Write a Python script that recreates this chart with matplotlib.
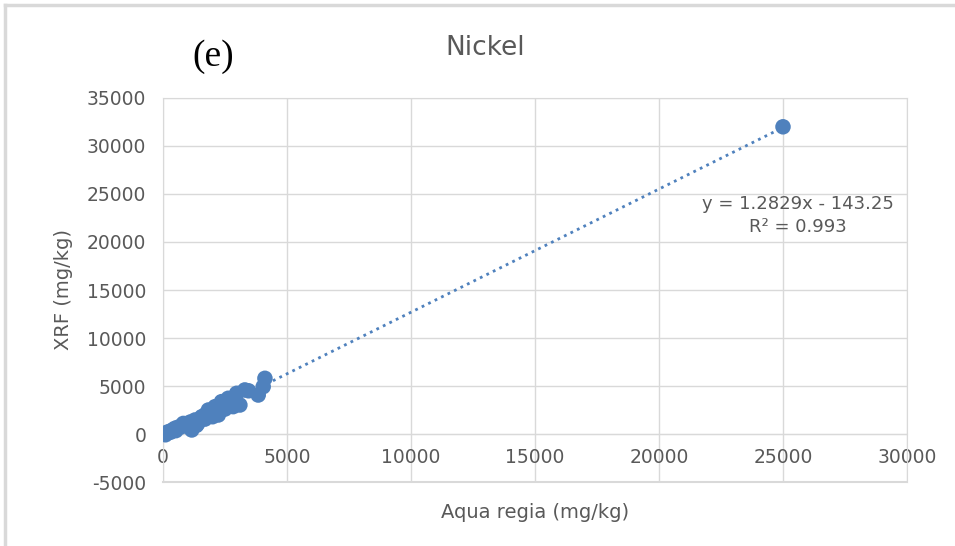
"""Nickel: XRF vs aqua regia digestion, panel (e)."""

import matplotlib
matplotlib.use("Agg")
import matplotlib.pyplot as plt
import numpy as np

plt.rcParams["axes.unicode_minus"] = False

# aqua regia (mg/kg) vs XRF (mg/kg)
aqua_regia = [0, 40, 90, 150, 215, 300, 380, 480, 600, 750, 880, 1020, 1160,
              1290, 1400, 1560, 1690, 1830, 1950, 2100, 2230, 2360, 2500,
              2630, 2830, 2970, 3100, 3300, 3840, 4040, 4110,
              100, 520, 820, 1100, 1350, 1700, 2000, 2300, 2700, 3450,
              25000]
xrf = [0, 60, 20, 120, 240, 180, 420, 590, 700, 760, 900, 940, 420,
       1460, 1100, 1800, 1550, 2500, 2200, 2850, 1980, 3370, 2600,
       3720, 2850, 4240, 3020, 4590, 4060, 4930, 5800,
       -80, 350, 1100, 1250, 900, 2000, 1800, 2400, 3300, 4500,
       32000]

slope, intercept = 1.2829, -143.25
r2 = 0.993

blue = "#4F81BD"
grey = "#D9D9D9"
txt = "#595959"

fig = plt.figure(figsize=(9.55, 5.46), dpi=100)
ax = fig.add_axes([163 / 955, 64 / 546, 744 / 955, 384 / 546])

x = np.array(aqua_regia)
fit_x = np.array([x.min(), x.max()])
ax.plot(fit_x, slope * fit_x + intercept, color=blue, lw=2,
        linestyle=(0, (1, 1.6)), zorder=2)
ax.scatter(aqua_regia, xrf, s=125, color=blue, edgecolors="none", zorder=3)

ax.set_xlim(0, 30000)
ax.set_ylim(-5000, 35000)
ax.set_xticks(np.arange(0, 30001, 5000))
ax.set_yticks(np.arange(-5000, 35001, 5000))
ax.grid(True, color=grey, lw=1)
ax.set_axisbelow(True)
for side in ["top", "right", "left", "bottom"]:
    ax.spines[side].set_color(grey)
ax.spines["bottom"].set_position(("data", 0))
ax.axhline(-5000, color=grey, lw=1.5, clip_on=False)
ax.tick_params(length=0, labelsize=13.5, labelcolor=txt)
ax.tick_params(axis="x", pad=10)
ax.tick_params(axis="y", pad=12)

ax.set_xlabel("Aqua regia (mg/kg)", fontsize=14, color=txt)
ax.xaxis.set_label_coords(0.5, -0.055)
ax.set_ylabel("XRF (mg/kg)", fontsize=14, color=txt, labelpad=10)

fig.text(485 / 955, 1 - 48 / 546, "Nickel", fontsize=19, color=txt,
         ha="center", va="center")
fig.text(213 / 955, 1 - 57 / 546, "(e)", fontsize=27, color="black",
         family="Liberation Serif", ha="center", va="center")
ax.text(0.853, 0.693, f"y = {slope}x - {abs(intercept)}\nR² = {r2}",
        transform=ax.transAxes, ha="center", va="center", fontsize=13,
        color=txt, linespacing=1.35)

# chart border (top and left edges visible)
fig.add_artist(plt.Line2D([5 / 955, 5 / 955], [0, 1 - 5 / 546],
                          transform=fig.transFigure, color=grey, lw=2.5))
fig.add_artist(plt.Line2D([5 / 955, 1], [1 - 5 / 546, 1 - 5 / 546],
                          transform=fig.transFigure, color=grey, lw=2.5))

fig.savefig("out.png", dpi=100)
